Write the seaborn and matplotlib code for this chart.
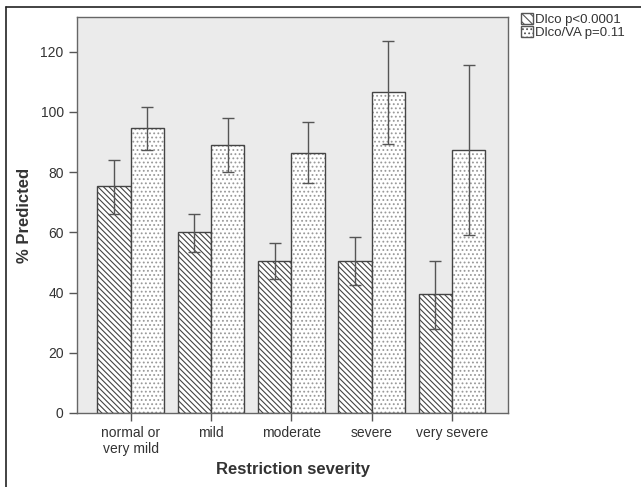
import pandas as pd
import matplotlib.pyplot as plt
import seaborn as sns
from matplotlib.lines import Line2D
from matplotlib.colors import to_rgba

# values
severity = ["normal or\nvery mild", "mild", "moderate", "severe", "very severe"]
dlco = [75.5, 60.0, 50.5, 50.5, 39.5]
dlco_lo = [66.0, 53.5, 44.5, 42.5, 28.0]
dlco_hi = [84.0, 66.0, 56.5, 58.5, 50.5]
dlcova = [94.5, 89.0, 86.5, 106.5, 87.5]
dlcova_lo = [87.5, 80.0, 76.5, 89.5, 59.0]
dlcova_hi = [101.5, 98.0, 96.5, 123.5, 115.5]
series = ["Dlco p<0.0001", "Dlco/VA p=0.11"]

df = pd.DataFrame({
    "severity": severity * 2,
    "value": dlco + dlcova,
    "series": [series[0]] * 5 + [series[1]] * 5,
})

sns.set_style("white")
plt.rcParams["font.family"] = ["Liberation Sans", "DejaVu Sans"]
plt.rcParams["hatch.linewidth"] = 0.8

fig = plt.figure(figsize=(6.41, 4.87), dpi=100)
ax = fig.add_axes([0.120, 0.152, 0.673, 0.813])
ax.set_facecolor("#ebebeb")

sns.barplot(data=df, x="severity", y="value", hue="series", order=severity,
            hue_order=series, palette=["white", "white"], width=0.83,
            edgecolor="#444444", linewidth=1.0, errorbar=None, ax=ax, legend=False)

hatches = ["\\\\\\\\\\\\", "...."]
hcolors = ["#444444", "#999999"]
bar_sets = list(ax.containers)
for i, cont in enumerate(bar_sets):
    vals = [dlco, dlcova][i]
    lo = [dlco_lo, dlcova_lo][i]
    hi = [dlco_hi, dlcova_hi][i]
    xs = []
    for bar in cont:
        bar.set_hatch(hatches[i])
        bar._hatch_color = to_rgba(hcolors[i])
        xs.append(bar.get_x() + bar.get_width() / 2)
    yerr = [[v - l for v, l in zip(vals, lo)], [h - v for v, h in zip(vals, hi)]]
    ax.errorbar(xs, vals, yerr=yerr, fmt="none", ecolor="#555555",
                elinewidth=1.0, capsize=4, capthick=1.0)

ax.set_ylim(0, 131.5)
ax.set_xlim(-0.67, 4.7)
ax.set_yticks([0, 20, 40, 60, 80, 100, 120])
ax.tick_params(axis="both", direction="out", length=6, width=1, color="#555555",
               labelsize=10, labelcolor="#333333", left=True, bottom=True)
for s in ax.spines.values():
    s.set_color("#666666")
    s.set_linewidth(1.0)

ax.set_xlabel("Restriction severity", fontsize=12, fontweight="bold",
              color="#333333", labelpad=4)
ax.set_ylabel("% Predicted", fontsize=12, fontweight="bold", color="#333333", labelpad=6)

handles = [plt.Rectangle((0, 0), 1, 1, facecolor="white", edgecolor="#555555",
                         hatch=h) for h in ["\\\\\\\\", "...."]]
leg = fig.legend(handles, series, loc="upper left", bbox_to_anchor=(0.805, 0.985),
                 frameon=False, fontsize=9.5, handlelength=0.9, handleheight=0.9,
                 handletextpad=0.15, labelspacing=0.05, borderaxespad=0)
for t in leg.get_texts():
    t.set_color("#333333")

# outer frame (left and top edges)
fig.add_artist(Line2D([0.010, 0.010], [0, 0.986], color="#222222", lw=1.2))
fig.add_artist(Line2D([0.010, 1.0], [0.986, 0.986], color="#222222", lw=1.2))

fig.savefig("out.png", dpi=100)
